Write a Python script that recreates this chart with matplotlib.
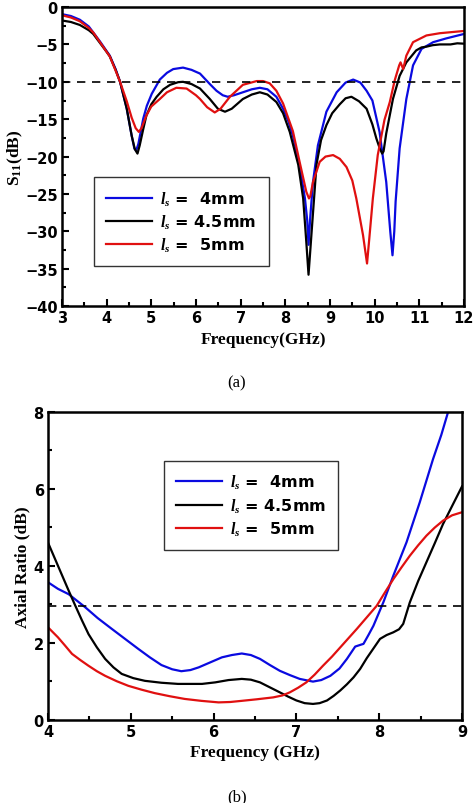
import numpy as np
import matplotlib
matplotlib.use('Agg')
import matplotlib.pyplot as plt
from matplotlib.ticker import MultipleLocator

plt.rcParams['mathtext.fontset'] = 'custom'
plt.rcParams['mathtext.it'] = 'Liberation Serif:italic:bold'
plt.rcParams['mathtext.rm'] = 'Liberation Serif:bold'
plt.rcParams['mathtext.bf'] = 'Liberation Serif:bold'

# (a) S11 data, ls = 4mm / 4.5mm / 5mm
s11_x_4 = [3.0, 3.2, 3.4, 3.6, 3.7, 3.85, 4.0, 4.07, 4.2, 4.3, 4.45, 4.56, 4.62, 4.66, 4.71, 4.82,
           4.9, 5.01, 5.19, 5.35, 5.49, 5.71, 5.9, 6.09, 6.31, 6.46, 6.6, 6.71, 6.85, 7.05, 7.25,
           7.43, 7.6, 7.8, 7.95, 8.07, 8.17, 8.32, 8.44, 8.49, 8.52, 8.56, 8.62, 8.73, 8.92, 9.15,
           9.35, 9.52, 9.68, 9.82, 9.95, 10.11, 10.26, 10.35, 10.40, 10.44, 10.47, 10.56, 10.71,
           10.86, 11.05, 11.31, 11.6, 12.0]
s11_y_4 = [-0.95, -1.2, -1.7, -2.6, -3.4, -4.6, -5.9, -6.5, -8.3, -10.0, -13.6, -17.2, -18.9, -19.2,
           -18.3, -14.9, -13.2, -11.6, -9.7, -8.8, -8.3, -8.1, -8.4, -8.9, -10.3, -11.2, -11.8,
           -12.0, -11.8, -11.4, -11.0, -10.8, -11.0, -12.0, -13.6, -15.3, -17.2, -21.2, -25.6,
           -28.5, -31.8, -28.0, -23.4, -18.5, -14.0, -11.4, -10.1, -9.7, -10.1, -11.2, -12.5,
           -16.7, -23.4, -30.0, -33.2, -30.0, -26.0, -18.9, -12.3, -7.8, -5.6, -4.7, -4.2, -3.6]

s11_x_45 = [3.0, 3.2, 3.4, 3.6, 3.7, 3.85, 4.0, 4.07, 4.2, 4.3, 4.45, 4.56, 4.63, 4.69, 4.74, 4.82,
            4.89, 5.0, 5.12, 5.27, 5.42, 5.6, 5.71, 5.9, 6.09, 6.31, 6.49, 6.65, 6.8, 7.05, 7.25,
            7.43, 7.6, 7.8, 7.95, 8.10, 8.29, 8.40, 8.47, 8.52, 8.56, 8.59, 8.70, 8.8, 8.92, 9.05,
            9.22, 9.35, 9.48, 9.65, 9.82, 9.95, 10.04, 10.12, 10.17, 10.2, 10.26, 10.41, 10.56,
            10.71, 10.93, 11.05, 11.16, 11.3, 11.46, 11.7, 11.85, 12.0]
s11_y_45 = [-1.8, -2.0, -2.4, -3.1, -3.6, -4.8, -6.0, -6.6, -8.4, -10.0, -13.6, -17.2, -19.0, -19.6,
            -18.5, -16.3, -14.5, -13.0, -12.0, -11.0, -10.4, -10.05, -10.0, -10.3, -10.9, -12.3,
            -13.6, -14.0, -13.6, -12.3, -11.7, -11.4, -11.7, -12.7, -14.2, -16.7, -21.1, -25.6,
            -31.4, -35.8, -32.5, -30.0, -21.0, -17.8, -15.8, -14.2, -13.0, -12.2, -12.0, -12.6,
            -13.6, -15.7, -17.6, -19.0, -19.6, -19.3, -16.9, -12.3, -9.2, -7.4, -5.8, -5.4, -5.3,
            -5.1, -5.0, -5.0, -4.85, -4.9]

s11_x_5 = [3.0, 3.2, 3.4, 3.6, 3.7, 3.85, 4.0, 4.07, 4.2, 4.3, 4.45, 4.56, 4.65, 4.72, 4.78, 4.89,
           5.0, 5.19, 5.35, 5.56, 5.79, 6.0, 6.09, 6.25, 6.42, 6.55, 6.76, 7.05, 7.36, 7.5, 7.65,
           7.8, 7.95, 8.17, 8.32, 8.47, 8.53, 8.56, 8.62, 8.77, 8.9, 9.07, 9.22, 9.37, 9.5, 9.59,
           9.74, 9.83, 9.88, 9.96, 10.07, 10.22, 10.34, 10.45, 10.55, 10.58, 10.64, 10.71, 10.86,
           11.16, 11.46, 12.0]
s11_y_5 = [-1.1, -1.4, -1.9, -2.8, -3.4, -4.7, -6.0, -6.6, -8.5, -10.0, -12.6, -14.8, -16.2, -16.7,
           -16.2, -14.5, -13.3, -12.3, -11.4, -10.8, -10.9, -11.8, -12.3, -13.4, -14.1, -13.6,
           -12.0, -10.4, -9.9, -9.9, -10.2, -11.2, -12.9, -16.6, -20.7, -24.7, -25.6, -25.3,
           -23.4, -20.7, -20.0, -19.8, -20.3, -21.4, -23.2, -25.6, -30.5, -34.3, -31.0, -25.6,
           -19.8, -15.1, -12.7, -9.8, -7.8, -7.4, -8.3, -6.5, -4.7, -3.8, -3.5, -3.2]

# (b) axial ratio data
ar_x_4 = [4.0, 4.12, 4.25, 4.45, 4.6, 4.77, 4.93, 5.09, 5.23, 5.37, 5.5, 5.61, 5.72, 5.82, 5.96,
          6.10, 6.22, 6.34, 6.45, 6.56, 6.68, 6.80, 6.92, 7.04, 7.2, 7.3, 7.41, 7.52, 7.61, 7.71,
          7.78, 7.81, 7.87, 7.93, 8.05, 8.17, 8.33, 8.49, 8.65, 8.75, 8.83]
ar_y_4 = [3.57, 3.4, 3.26, 2.92, 2.64, 2.36, 2.1, 1.84, 1.62, 1.42, 1.31, 1.26, 1.29, 1.36, 1.49,
          1.62, 1.68, 1.72, 1.68, 1.58, 1.42, 1.27, 1.16, 1.06, 0.99, 1.03, 1.14, 1.33, 1.58, 1.90,
          1.95, 1.97, 2.2, 2.44, 3.05, 3.74, 4.61, 5.65, 6.77, 7.4, 7.98]

ar_x_45 = [4.0, 4.08, 4.17, 4.25, 4.33, 4.41, 4.49, 4.59, 4.69, 4.79, 4.89, 5.03, 5.17, 5.37, 5.57,
           5.86, 6.02, 6.18, 6.34, 6.45, 6.56, 6.68, 6.80, 6.9, 7.0, 7.1, 7.2, 7.28, 7.37, 7.45,
           7.53, 7.61, 7.69, 7.77, 7.85, 7.93, 8.01, 8.09, 8.17, 8.24, 8.29, 8.37, 8.47, 8.57,
           8.67, 8.77, 8.88, 9.0]
ar_y_45 = [4.6, 4.2, 3.75, 3.35, 2.96, 2.58, 2.22, 1.88, 1.58, 1.36, 1.19, 1.08, 1.01, 0.96, 0.93,
           0.93, 0.97, 1.03, 1.06, 1.04, 0.97, 0.84, 0.71, 0.6, 0.5, 0.43, 0.41, 0.43, 0.5, 0.62,
           0.76, 0.92, 1.1, 1.32, 1.6, 1.85, 2.1, 2.2, 2.27, 2.35, 2.49, 3.05, 3.6, 4.09, 4.58,
           5.08, 5.55, 6.06]

ar_x_5 = [4.0, 4.06, 4.12, 4.2, 4.29, 4.39, 4.49, 4.59, 4.69, 4.83, 4.97, 5.13, 5.29, 5.47, 5.65,
          5.85, 6.06, 6.2, 6.34, 6.52, 6.72, 6.83, 6.92, 7.02, 7.12, 7.22, 7.32, 7.43, 7.53, 7.63,
          7.73, 7.85, 7.97, 8.07, 8.17, 8.27, 8.37, 8.47, 8.57, 8.67, 8.77, 8.88, 9.0]
ar_y_5 = [2.40, 2.27, 2.14, 1.94, 1.71, 1.55, 1.40, 1.26, 1.14, 1.0, 0.88, 0.78, 0.69, 0.61, 0.54,
          0.49, 0.45, 0.46, 0.49, 0.53, 0.58, 0.63, 0.71, 0.83, 0.97, 1.17, 1.40, 1.64, 1.88, 2.12,
          2.36, 2.66, 2.96, 3.31, 3.65, 3.96, 4.26, 4.53, 4.78, 4.99, 5.17, 5.31, 5.39]

labels = [r'$l_{s}$ =  4mm', r'$l_{s}$ = 4.5mm', r'$l_{s}$ =  5mm']
colors = ['#0a0ae0', 'black', '#e01010']

fig = plt.figure(figsize=(4.74, 8.04), dpi=100)
ax1 = fig.add_axes([0.1308, 0.618, 0.848, 0.372])
ax2 = fig.add_axes([0.1013, 0.1036, 0.8734, 0.383])

lab_font = {'family': 'Liberation Serif', 'weight': 'bold', 'size': 12.5}
leg_prop = {'family': 'DejaVu Sans', 'weight': 'bold', 'size': 11.5}


def style(ax):
    for sp in ax.spines.values():
        sp.set_linewidth(1.8)
    ax.tick_params(which='both', direction='in', top=False, right=False, width=1.5)
    ax.tick_params(which='major', length=5, pad=3)
    ax.tick_params(which='minor', length=3)
    for t in ax.get_xticklabels() + ax.get_yticklabels():
        t.set_fontfamily('DejaVu Sans')
        t.set_fontweight('bold')
        t.set_fontsize(10.5)


# (a)
for xs, ys, c, lb in zip([s11_x_4, s11_x_45, s11_x_5], [s11_y_4, s11_y_45, s11_y_5], colors, labels):
    ax1.plot(xs, ys, color=c, lw=1.6, label=lb)
ax1.axhline(-10, color='black', lw=1.2, ls=(0, (5, 4)))
ax1.set_xlim(3, 12)
ax1.set_ylim(-40, 0)
ax1.xaxis.set_major_locator(MultipleLocator(1))
ax1.xaxis.set_minor_locator(MultipleLocator(0.5))
ax1.yaxis.set_major_locator(MultipleLocator(5))
ax1.yaxis.set_minor_locator(MultipleLocator(2.5))
style(ax1)
ax1.set_xlabel('Frequency(GHz)', fontdict=lab_font, labelpad=4)
ax1.set_ylabel(r'S$_{11}$(dB)', fontdict=lab_font, labelpad=0)
leg1 = ax1.legend(loc='upper left', bbox_to_anchor=(0.08, 0.431), borderaxespad=0, fancybox=False,
                  framealpha=1, edgecolor='#333333', handlelength=2.9, labelspacing=0.3,
                  borderpad=0.75, handletextpad=0.5, prop=leg_prop)
leg1.get_frame().set_linewidth(1.0)

# (b)
for xs, ys, c, lb in zip([ar_x_4, ar_x_45, ar_x_5], [ar_y_4, ar_y_45, ar_y_5], colors, labels):
    ax2.plot(xs, ys, color=c, lw=1.6, label=lb)
ax2.axhline(2.96, color='black', lw=1.2, ls=(0, (5, 4)))
ax2.set_xlim(4, 9)
ax2.set_ylim(0, 8)
ax2.xaxis.set_major_locator(MultipleLocator(1))
ax2.xaxis.set_minor_locator(MultipleLocator(0.5))
ax2.yaxis.set_major_locator(MultipleLocator(2))
ax2.yaxis.set_minor_locator(MultipleLocator(1))
style(ax2)
ax2.set_xlabel('Frequency (GHz)', fontdict=lab_font, labelpad=4)
ax2.set_ylabel('Axial Ratio (dB)', fontdict=lab_font, labelpad=2)
leg2 = ax2.legend(loc='upper left', bbox_to_anchor=(0.28, 0.84), borderaxespad=0, fancybox=False,
                  framealpha=1, edgecolor='#333333', handlelength=2.9, labelspacing=0.3,
                  borderpad=0.75, handletextpad=0.5, prop=leg_prop)
leg2.get_frame().set_linewidth(1.0)

fig.text(0.5, 1 - 383 / 804, '(a)', ha='center', va='center', family='Liberation Serif', size=12)
fig.text(0.5, 1 - 797 / 804, '(b)', ha='center', va='center', family='Liberation Serif', size=12)

fig.savefig('out.png', dpi=100)
